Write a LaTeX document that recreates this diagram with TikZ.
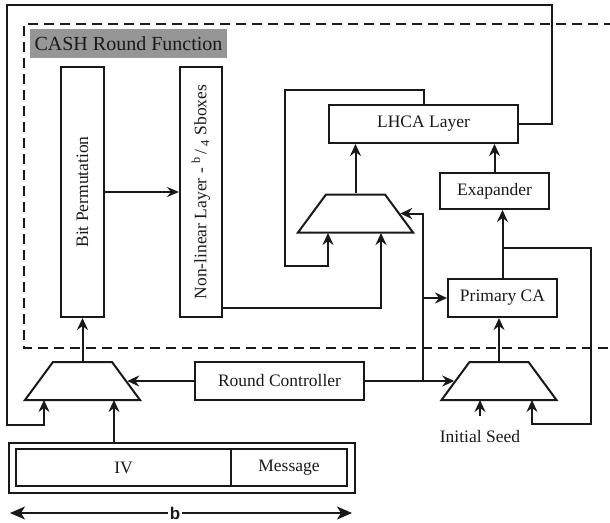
\documentclass[tikz,border=0pt]{standalone}
\usepackage{fontspec}
\setmainfont{Liberation Serif}
\newfontfamily\labelsans{Liberation Sans}
\usetikzlibrary{arrows.meta,shapes.geometric,calc}
\definecolor{ink}{RGB}{25,25,25}
\definecolor{titlegray}{RGB}{150,150,150}
\begin{document}
\begin{tikzpicture}[x=1pt,y=-1pt,
  blk/.style={draw=ink, line width=2pt, inner sep=0pt, text=ink,
    font=\fontsize{17.5}{20}\selectfont},
  lbl/.style={inner sep=0pt, text=ink, font=\fontsize{17.5}{20}\selectfont},
  mux/.style={trapezium, draw=ink, line width=2pt, trapezium angle=53.6,
    inner xsep=29.5pt, inner ysep=19pt},
  wire/.style={draw=ink, line width=2pt},
  arr/.style={wire, -{Stealth[length=12pt,width=11pt,inset=4pt]}},
  thinarr/.style={draw=ink, line width=1.2pt, -{Stealth[length=12pt,width=10pt,inset=4pt]}}
]
\useasboundingbox (0,0) rectangle (610,522);

% round function boundary (open to the right)
\draw[ink, line width=2pt, dash pattern=on 10pt off 6pt]
  (614,24) -- (24,24) -- (24,348) -- (614,348);
\node[fill=titlegray, minimum width=197pt, minimum height=29pt, inner sep=0pt,
  text=ink, font=\fontsize{20}{22}\selectfont] (title) at (128.5,43.5) {CASH Round Function};

% blocks
\node[blk, minimum width=43pt, minimum height=250pt] (bp) at (82.5,192)
  {\rotatebox{90}{Bit Permutation}};
\node[blk, minimum width=42pt, minimum height=250pt] (nl) at (201,192)
  {\rotatebox{90}{Non-linear Layer - \textsuperscript{b}\,/\,\textsubscript{4} Sboxes}};
\node[blk, minimum width=189pt, minimum height=38pt] (lhca) at (423.5,124) {LHCA Layer};
\node[blk, minimum width=109pt, minimum height=36pt] (exp) at (494.5,191) {Exapander};
\node[blk, minimum width=109pt, minimum height=38pt] (pca) at (502.5,298) {Primary CA};
\node[blk, minimum width=169pt, minimum height=38pt] (rc) at (279.5,381) {Round Controller};

% multiplexers
\node[mux] (mL) at (82.5,381) {};
\node[mux] (mU) at (355.5,213.5) {};
\node[mux] (mR) at (499,381) {};

% input block
\node[blk, minimum width=346pt, minimum height=50pt] (frame) at (182,468) {};
\node[blk, minimum width=215pt, minimum height=37pt] (iv) at (123.5,467.5) {IV};
\node[blk, minimum width=116pt, minimum height=37pt] (msg) at (289,467.5) {Message};

\node[lbl] (seed) at (480,437) {Initial Seed};

% connector end points
\coordinate (mLa) at (44,400);
\coordinate (mLb) at (114,400);
\coordinate (fbA) at (552,5);
\coordinate (fbB) at (7,425);
\coordinate (upA) at (285,90);
\coordinate (upD) at (328,266);
\coordinate (upB) at (328,233);
\coordinate (upC) at (381,233);
\coordinate (nlo) at ($(nl.south east)+(0,-10)$);
\coordinate (brA) at (502.5,248);
\coordinate (brB) at (591,424);
\coordinate (mRa) at (480,400);
\coordinate (mRb) at (532,400);
\coordinate (seedin) at (480,416);
\coordinate (jn) at (423,381);

% connectors
\draw[thinarr] (bp.east) -- (nl.west);
\draw[arr] (mL.north) -- (bp.south);
\draw[arr] (rc.west) -- (mL.east);
\draw[arr] (frame.north -| mLb) -- (mLb);
\draw[arr] (lhca.east) -| (fbA) -| (fbB) -| (mLa);
\draw[arr] (lhca.north) |- (upA) |- (upD) -- (upB);
\draw[arr] (nlo) -| (upC);
\draw[arr] (mU.north) -- (mU.north |- lhca.south);
\draw[arr] (exp.north) -- (exp.north |- lhca.south);
\draw[arr] (pca.north) -- (pca.north |- exp.south);
\draw[arr] (brA) -| (brB) -| (mRb);
\draw[arr] (mR.north) -- (mR.north |- pca.south);
\draw[arr] (seedin) -- (mRa);
\draw[arr] (rc.east) -- (mR.west);
\draw[arr] (jn) |- (mU.east);
\draw[arr] (jn |- pca.west) -- (pca.west);

% width of the state
\coordinate (bl) at (10,513);
\coordinate (br) at (352,513);
\draw[draw=ink, line width=1.5pt,
  {Stealth[length=15pt,width=13pt,inset=4pt]}-{Stealth[length=15pt,width=13pt,inset=4pt]}]
  (bl) -- (br);
\node[fill=white, inner xsep=2pt, inner ysep=0pt, text=ink,
  font=\labelsans\bfseries\fontsize{17}{19}\selectfont] (blabel) at (175,513) {b};
\end{tikzpicture}
\end{document}
